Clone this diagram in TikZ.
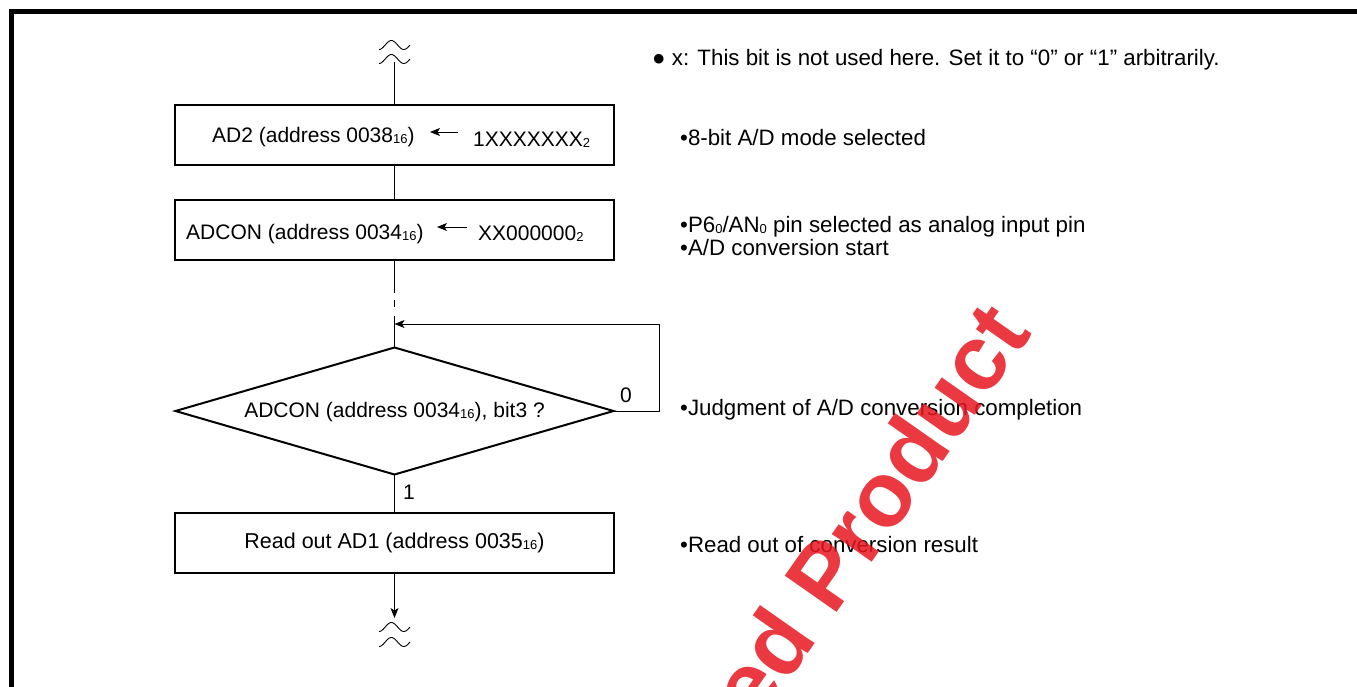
\documentclass[tikz,border=0pt]{standalone}
\usepackage{fontspec}
\setmainfont{Liberation Sans}
\usetikzlibrary{arrows.meta,shapes.geometric}
\definecolor{wmred}{RGB}{232,22,32}
\newcommand{\subs}[1]{\raisebox{-1pt}{\fontsize{13}{13}\selectfont #1}}
\begin{document}
\begin{tikzpicture}[x=1pt,y=-1pt,
  font=\fontsize{21}{25}\selectfont,
  box/.style={draw,line width=2pt,minimum width=439pt,minimum height=60pt,inner sep=0pt,outer sep=0pt},
  dia/.style={draw,diamond,line width=2pt,minimum width=438pt,minimum height=127pt,inner sep=0pt,outer sep=0pt},
  conn/.style={line width=1pt},
  arr/.style={conn,-{Stealth[length=10pt,width=8pt,inset=2.5pt]}},
  lbl/.style={inner sep=0pt,anchor=base west},
  note/.style={lbl,font=\fontsize{22.3}{26}\selectfont},
  wave/.style={line width=0.9pt},
  wm/.style={text=wmred,opacity=0.85,font=\fontsize{92}{92}\selectfont\bfseries,inner sep=0pt,anchor=east,rotate=55}
]
\useasboundingbox (0,0) rectangle (1357,686);
\clip (0,0) rectangle (1357,686);
% frame
\draw[line width=5pt,line join=miter] (11.5,690) -- (11.5,11.5) -- (1360,11.5);

% top break mark
\draw[wave] plot[domain=0:1,samples=40] ({379+31*\x},{45-4.5*sin(-90+450*\x)});
\draw[wave] plot[domain=0:1,samples=40] ({379+31*\x},{59-4.5*sin(-90+450*\x)});
\coordinate (topw) at (394.5,62);

% boxes
\node[box] (b1) at (394.5,135) {};
\node[lbl] (b1l) at (212,142) {AD2 (address 0038\subs{16})};
\coordinate (b1aS) at (458,132);
\coordinate (b1aE) at (430,132);
\node[lbl] (b1r) at (473,146.5) {1XXXXXXX\subs{2}};

\node[box] (b2) at (394.5,229.5) {};
\node[lbl] (b2l) at (186,239) {ADCON (address 0034\subs{16})};
\coordinate (b2aS) at (467,227);
\coordinate (b2aE) at (437,227);
\node[lbl] (b2r) at (478,240) {XX000000\subs{2}};

\node[dia] (d) at (394.5,411) {};
\node[inner sep=0pt] (dt) at (394.5,412) {ADCON (address 0034\subs{16}), bit3 ?};
\node[inner sep=0pt] (l0) at (626,395) {0};
\node[inner sep=0pt] (l1) at (409,492) {1};

\node[box,font=\fontsize{21.5}{25}\selectfont] (b4) at (394.5,543) {Read out AD1 (address 0035\subs{16})};

% connectors
\draw[conn] (topw) -- (b1.north);
\draw[conn] (b1.south) -- (b2.north);
\coordinate (g1) at (394.5,293);
\coordinate (g2) at (394.5,300);
\coordinate (g3) at (394.5,307);
\coordinate (g4) at (394.5,316);
\draw[conn] (b2.south) -- (g1);
\draw[conn] (g2) -- (g3);
\draw[conn] (g4) -- (d.north);
\coordinate (lc) at (659,324);
\draw[arr] (d.east) -| (lc) -- (lc -| d.north);
\draw[conn] (d.south) -- (b4.north);
\coordinate (endc) at (394.5,618);
\draw[arr] (b4.south) -- (endc);
\draw[arr] (b1aS) -- (b1aE);
\draw[arr] (b2aS) -- (b2aE);

% bottom break mark
\draw[wave] plot[domain=0:1,samples=40] ({379+31*\x},{627-4.5*sin(-90+450*\x)});
\draw[wave] plot[domain=0:1,samples=40] ({379+31*\x},{642-4.5*sin(-90+450*\x)});

% notes
\node[note] (n0) at (652,65) {● x: This bit is not used here. Set it to “0” or “1” arbitrarily.};
\node[note] (n1) at (680,145) {•8-bit A/D mode selected};
\node[note] (n2) at (680,232) {•P6\subs{0}/AN\subs{0} pin selected as analog input pin};
\node[note] (n3) at (680,255) {•A/D conversion start};
\node[note] (n4) at (680,415) {•Judgment of A/D conversion completion};
\node[note] (n5) at (680,552) {•Read out of conversion result};

% watermark
\node[wm] (wmk) at (1006,314) {Discontinued Product};
\end{tikzpicture}
\end{document}
